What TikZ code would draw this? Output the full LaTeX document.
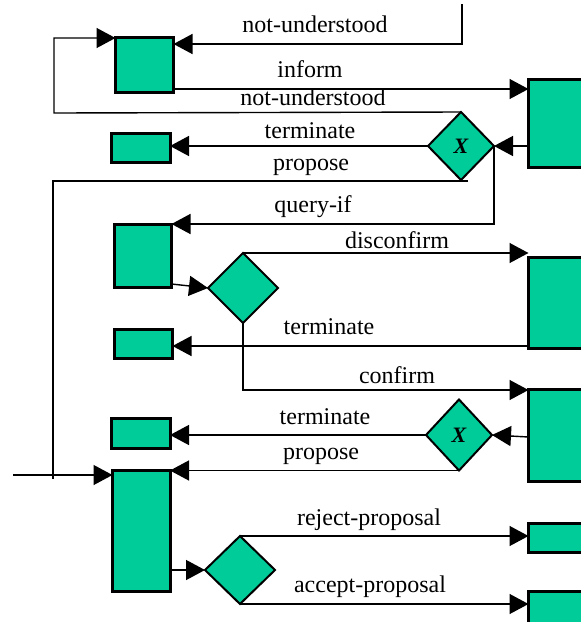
\documentclass[tikz,border=0pt]{standalone}
\usepackage{fontspec}
\setmainfont{Liberation Serif}
\usetikzlibrary{arrows.meta,shapes.geometric}
\definecolor{boxgreen}{HTML}{00CC99}
\tikzset{
  box/.style={draw=black, fill=boxgreen, line width=3pt, rectangle,
    anchor=north west, inner sep=0pt, outer sep=0pt},
  gate/.style={draw=black, fill=boxgreen, line width=2pt, diamond,
    inner sep=0pt, outer sep=0pt, font=\fontsize{22}{22}\selectfont\bfseries\itshape},
  msg/.style={line width=1.4pt, -{Triangle[length=19pt,width=20pt]}},
  wire/.style={line width=1.4pt},
  lbl/.style={anchor=base, inner sep=0pt, font=\fontsize{24}{26}\selectfont}
}
\begin{document}
\begin{tikzpicture}[x=1pt,y=-1pt]
\useasboundingbox (0,0) rectangle (581,622);
\clip (0,0) rectangle (581,622);

% participant boxes
\node[box, minimum width=58pt, minimum height=55pt] (A) at (115.5,37.5) {};
\node[box, minimum width=92pt, minimum height=88pt] (B) at (528.5,79.5) {};
\node[box, minimum width=58.5pt, minimum height=29pt] (C) at (111.5,133.5) {};
\node[box, minimum width=57pt, minimum height=63pt] (D) at (114.5,224) {};
\node[box, minimum width=92pt, minimum height=91pt] (E) at (528.5,257.5) {};
\node[box, minimum width=58pt, minimum height=29pt] (G) at (114.5,329.5) {};
\node[box, minimum width=92pt, minimum height=92pt] (H) at (528.5,389) {};
\node[box, minimum width=58.5pt, minimum height=29.5pt] (I) at (111.5,418.5) {};
\node[box, minimum width=57.5pt, minimum height=120.5pt] (F) at (112.5,470.5) {};
\node[box, minimum width=92pt, minimum height=29pt] (J) at (528.5,523) {};
\node[box, minimum width=92pt, minimum height=40pt] (K) at (528.5,591) {};

% decision diamonds
\node[gate, minimum width=66pt, minimum height=68pt] (X1) at (461,146) {X};
\node[gate, minimum width=70pt, minimum height=70pt] (D2) at (243,288) {};
\node[gate, minimum width=66pt, minimum height=71pt] (X2) at (459,435) {X};
\node[gate, minimum width=70pt, minimum height=68pt] (D3) at (240,570) {};

% free ends of the loop lines
\coordinate (nuTop) at (462,4);
\coordinate (loopL) at (54,113);
\coordinate (propL) at (53,181);
\coordinate (propEnd) at (468,181);
\coordinate (propBot) at (53,479);
\coordinate (inL) at (13,475);

% top part
\draw[msg] (nuTop) |- (A.east |- 0,44);
\draw[msg] (A.east |- 0,89) -- (B.west |- 0,89);
\draw[msg] (X1.north) -- (loopL) |- (A.west |- 0,38);
\draw[msg] (B.west |- X1.east) -- (X1.east);
\draw[msg] (X1.west) -- (C.east |- X1.west);
\draw[wire] (propEnd) -- (propL) -- (propBot);
\draw[msg] (X1.east) |- (D.north east);

% query-if block
\draw[msg] (D.east |- 0,284) -- (D2.west);
\draw[msg] (D2.north) -- (E.west |- D2.north);
\draw[msg] (E.west |- 0,346) -- (G.east |- 0,346);
\draw[msg] (D2.south) |- (H.west |- 0,390);

% propose block
\draw[msg] (H.west |- 0,437) -- (X2.east);
\draw[msg] (X2.west) -- (I.east |- X2.west);
\draw[msg] (X2.south) -- (F.east |- X2.south);
\draw[msg] (inL) -- (F.west |- inL);
\draw[msg] (F.east |- 0,570) -- (D3.west);
\draw[msg] (D3.north) -- (J.west |- D3.north);
\draw[msg] (D3.south) -- (K.west |- D3.south);

% message labels
\node[lbl] (t1) at (315,32) {not-understood};
\node[lbl] (t2) at (310,77) {inform};
\node[lbl] (t3) at (313,105) {not-understood};
\node[lbl] (t4) at (310,138) {terminate};
\node[lbl] (t5) at (311,170) {propose};
\node[lbl] (t6) at (313,212) {query-if};
\node[lbl] (t7) at (397,248) {disconfirm};
\node[lbl] (t8) at (329,334) {terminate};
\node[lbl] (t9) at (397,383) {confirm};
\node[lbl] (t10) at (325,424) {terminate};
\node[lbl] (t11) at (321,459) {propose};
\node[lbl] (t12) at (369,525) {reject-proposal};
\node[lbl] (t13) at (370,592) {accept-proposal};
\end{tikzpicture}
\end{document}
